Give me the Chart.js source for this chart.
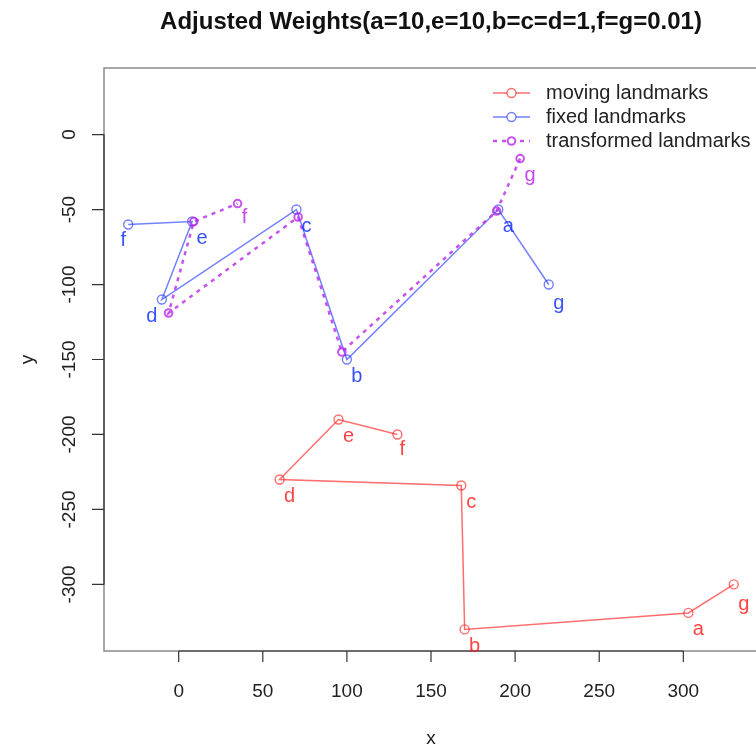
<!DOCTYPE html>
<html>
<head>
<meta charset="utf-8">
<script src="https://cdn.jsdelivr.net/npm/chart.js@4.4.1/dist/chart.umd.min.js"></script>
<style>
  html, body { margin: 0; padding: 0; background: #fff; overflow: hidden; }
  #wrap { width: 764px; height: 748px; }
</style>
</head>
<body>
<div id="wrap"><canvas id="chart" width="764" height="748"></canvas></div>
<script>
// Landmark data, in the order the outline is drawn
const landmarkNames = ['g', 'a', 'b', 'c', 'd', 'e', 'f'];
const movingX = [330, 303, 170, 168, 60, 95, 130];
const movingY = [-300, -319, -330, -234, -230, -190, -200];
const fixedX = [220, 190, 100, 70, -10, 8, -30];
const fixedY = [-100, -50, -150, -50, -110, -58, -60];
const transformedX = [203, 189, 97, 71, -6, 9, 35];
const transformedY = [-16, -51, -145, -55, -119, -58, -46];
const transformedShown = ['f', 'g'];

const xLimits = [-30, 330];
const yLimits = [-330, 30];
const xTicks = [0, 50, 100, 150, 200, 250, 300];
const yTicks = [0, -50, -100, -150, -200, -250, -300];

const titleText = 'Adjusted Weights(a=10,e=10,b=c=d=1,f=g=0.01)';
const legendLabels = ['moving landmarks', 'fixed landmarks', 'transformed landmarks'];

const FONT = '"Liberation Sans", Arial, Helvetica, sans-serif';

// R style 4% axis expansion
function expand(lim) {
  const pad = (lim[1] - lim[0]) * 0.04;
  return [lim[0] - pad, lim[1] + pad];
}
const xRange = expand(xLimits);
const yRange = expand(yLimits);

function toPoints(xs, ys) {
  return xs.map((v, i) => ({ x: v, y: ys[i] }));
}

// small nudges for a few labels (default is +10px right, +17px down)
const labelNudge = {
  moving: { f: [-5, -2], g: [0, 3] },
  fixed: { f: [-15, -1], d: [-20, 0], g: [0, 2] },
  transformed: { f: [-3, -3] }
};

const rStylePlugin = {
  id: 'rStyle',
  afterDatasetsDraw(chart) {
    const { ctx, chartArea: a, scales: { x, y } } = chart;
    ctx.save();

    // plot box
    ctx.strokeStyle = '#8a8a8a';
    ctx.lineWidth = 1.5;
    ctx.strokeRect(a.left, a.top, a.right - a.left, a.bottom - a.top);

    // axis lines and ticks
    ctx.strokeStyle = '#333';
    ctx.lineWidth = 1.2;
    ctx.beginPath();
    ctx.moveTo(x.getPixelForValue(xTicks[0]), a.bottom);
    ctx.lineTo(x.getPixelForValue(xTicks[xTicks.length - 1]), a.bottom);
    xTicks.forEach(v => {
      const px = x.getPixelForValue(v);
      ctx.moveTo(px, a.bottom);
      ctx.lineTo(px, a.bottom + 11);
    });
    ctx.moveTo(a.left, y.getPixelForValue(yTicks[0]));
    ctx.lineTo(a.left, y.getPixelForValue(yTicks[yTicks.length - 1]));
    yTicks.forEach(v => {
      const py = y.getPixelForValue(v);
      ctx.moveTo(a.left, py);
      ctx.lineTo(a.left - 12, py);
    });
    ctx.stroke();

    // tick labels
    ctx.fillStyle = '#222';
    ctx.font = '19px ' + FONT;
    ctx.textAlign = 'center';
    ctx.textBaseline = 'alphabetic';
    xTicks.forEach(v => ctx.fillText(String(v), x.getPixelForValue(v), a.bottom + 46));
    yTicks.forEach(v => {
      ctx.save();
      ctx.translate(a.left - 29, y.getPixelForValue(v));
      ctx.rotate(-Math.PI / 2);
      ctx.fillText(String(v), 0, 0);
      ctx.restore();
    });

    // axis titles
    const midX = (a.left + a.right) / 2;
    ctx.fillText('x', midX, 744);
    ctx.save();
    ctx.translate(33, (a.top + a.bottom) / 2);
    ctx.rotate(-Math.PI / 2);
    ctx.fillText('y', 0, 0);
    ctx.restore();

    // title
    ctx.fillStyle = '#111';
    ctx.font = 'bold 24px ' + FONT;
    ctx.fillText(titleText, midX, 29);

    // point labels
    ctx.font = '20px ' + FONT;
    ctx.textBaseline = 'middle';
    chart.data.datasets.forEach((ds, i) => {
      const meta = chart.getDatasetMeta(i);
      const nudge = labelNudge[ds.key] || {};
      ctx.fillStyle = ds.labelColor;
      meta.data.forEach((pt, j) => {
        const name = ds.pointNames[j];
        if (!name) return;
        const n = nudge[name] || [0, 0];
        ctx.fillText(name, pt.x + 10 + n[0], pt.y + 17 + n[1]);
      });
    });

    // legend (no box)
    const rowY = [93, 117, 141];
    ctx.font = '20px ' + FONT;
    chart.data.datasets
      .slice()
      .sort((p, q) => p.legendIndex - q.legendIndex)
      .forEach((ds, k) => {
        const yy = rowY[k];
        ctx.strokeStyle = ds.borderColor;
        ctx.lineWidth = ds.borderWidth;
        ctx.setLineDash(ds.borderDash || []);
        ctx.beginPath();
        ctx.moveTo(493, yy);
        ctx.lineTo(530, yy);
        ctx.stroke();
        ctx.setLineDash([]);
        ctx.lineWidth = ds.pointBorderWidth;
        ctx.fillStyle = '#fff';
        ctx.beginPath();
        ctx.arc(511.5, yy, ds.pointRadius, 0, Math.PI * 2);
        ctx.fill();
        ctx.stroke();
        ctx.fillStyle = '#222';
        ctx.textAlign = 'left';
        ctx.fillText(legendLabels[ds.legendIndex], 546, yy);
      });

    ctx.restore();
  }
};

const chart = new Chart(document.getElementById('chart'), {
  type: 'scatter',
  data: {
    datasets: [
      {
        key: 'moving',
        legendIndex: 0,
        data: toPoints(movingX, movingY),
        pointNames: landmarkNames,
        showLine: true,
        borderColor: 'rgba(255, 30, 30, 0.65)',
        backgroundColor: 'rgba(255, 255, 255, 0)',
        labelColor: 'rgba(255, 20, 20, 0.8)',
        borderWidth: 1.5,
        pointRadius: 4.5,
        pointBorderWidth: 1.4,
        pointBackgroundColor: 'rgba(255, 255, 255, 0)',
        order: 3
      },
      {
        key: 'fixed',
        legendIndex: 1,
        data: toPoints(fixedX, fixedY),
        pointNames: landmarkNames,
        showLine: true,
        borderColor: 'rgba(40, 60, 255, 0.65)',
        backgroundColor: 'rgba(255, 255, 255, 0)',
        labelColor: 'rgba(20, 50, 255, 0.85)',
        borderWidth: 1.5,
        pointRadius: 4.5,
        pointBorderWidth: 1.4,
        pointBackgroundColor: 'rgba(255, 255, 255, 0)',
        order: 2
      },
      {
        key: 'transformed',
        legendIndex: 2,
        data: toPoints(transformedX, transformedY),
        pointNames: landmarkNames.map(n => (transformedShown.includes(n) ? n : '')),
        showLine: true,
        borderColor: 'rgba(185, 40, 235, 0.8)',
        backgroundColor: 'rgba(255, 255, 255, 0)',
        labelColor: 'rgba(185, 40, 235, 0.85)',
        borderWidth: 2.5,
        borderDash: [4, 5],
        pointRadius: 3.8,
        pointBorderWidth: 2,
        pointBackgroundColor: 'rgba(255, 255, 255, 0)',
        order: 1
      }
    ]
  },
  options: {
    responsive: false,
    animation: false,
    devicePixelRatio: 1,
    layout: { padding: { left: 104, top: 68, right: 1, bottom: 97 } },
    scales: {
      x: { type: 'linear', display: false, min: xRange[0], max: xRange[1] },
      y: { type: 'linear', display: false, min: yRange[0], max: yRange[1] }
    },
    plugins: {
      legend: { display: false },
      tooltip: { enabled: false }
    }
  },
  plugins: [rStylePlugin]
});
</script>
</body>
</html>
